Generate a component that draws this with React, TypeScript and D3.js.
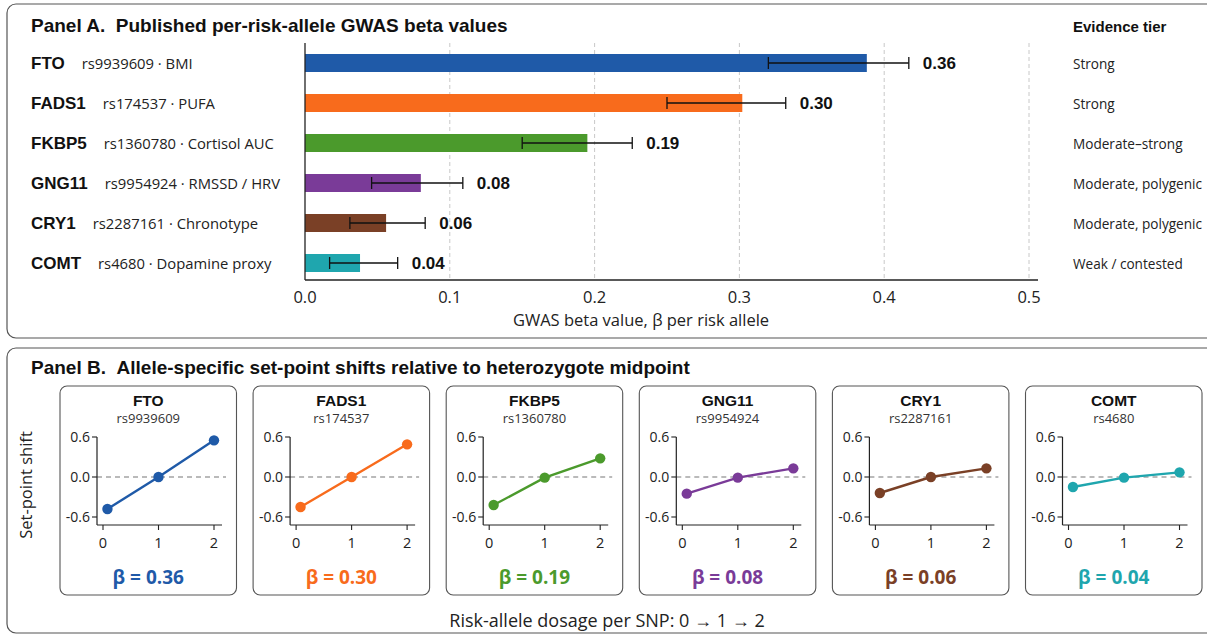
import * as d3 from 'd3';
import React from 'react';

// Panel A data
const genes = ['FTO', 'FADS1', 'FKBP5', 'GNG11', 'CRY1', 'COMT'];
const snps = ['rs9939609', 'rs174537', 'rs1360780', 'rs9954924', 'rs2287161', 'rs4680'];
const traits = ['BMI', 'PUFA', 'Cortisol AUC', 'RMSSD / HRV', 'Chronotype', 'Dopamine proxy'];
const betaBar = [0.388, 0.302, 0.195, 0.08, 0.056, 0.038];
const errLo = [0.32, 0.25, 0.15, 0.046, 0.031, 0.017];
const errHi = [0.417, 0.332, 0.226, 0.109, 0.083, 0.064];
const betaLabels = ['0.36', '0.30', '0.19', '0.08', '0.06', '0.04'];
const tiers = ['Strong', 'Strong', 'Moderate\u2013strong', 'Moderate, polygenic', 'Moderate, polygenic', 'Weak / contested'];
const xTicksA = [0, 0.1, 0.2, 0.3, 0.4, 0.5];

// Panel B data
const dosage = [0.08, 1, 2];
const dosageTicks = [0, 1, 2];
const shiftTicks = [0.6, 0, -0.6];
const shifts = [
  [-0.48, 0, 0.55],
  [-0.45, 0, 0.49],
  [-0.42, -0.01, 0.28],
  [-0.25, -0.01, 0.13],
  [-0.24, 0, 0.13],
  [-0.15, -0.01, 0.07],
];

const colors = ['#1f5aa8', '#f86b1c', '#4b9a2c', '#7a3b98', '#7a4026', '#1fa6ae'];

const sans = '"Open Sans", "Noto Sans", sans-serif';
const bold = '"Liberation Sans", Arial, sans-serif';

export default function App() {
  const W = 1207, H = 635;

  const x = d3.scaleLinear().domain([0, 0.5]).range([305, 1029]);
  const y = d3.scalePoint().domain(genes).range([63, 263]);
  const barH = 18;

  const box = d3.scaleBand().domain(genes).range([60, 1202]).paddingInner(0.086);
  const sy = d3.scaleLinear().domain([-0.72, 0.6]).range([525, 437]);
  const sxLocal = d3.scaleLinear().domain([0, 2]).range([43, 154]);
  const line = d3.line<[number, number]>().x(d => sxLocal(d[0])).y(d => sy(d[1]));

  return (
    <svg width={W} height={H} style={{ position: 'absolute', left: 0, top: 0, background: '#fff' }}>
      {/* panel frames */}
      <rect x={7} y={4} width={1215} height={334} rx={9} fill="#fff" stroke="#555" strokeWidth={1.2} />
      <rect x={7} y={348} width={1215} height={285} rx={9} fill="#fff" stroke="#555" strokeWidth={1.2} />

      {/* Panel A */}
      <text x={31} y={32} fontFamily={bold} fontWeight="bold" fontSize={19} fill="#111">
        Panel A.{'\u00a0\u00a0'}Published per-risk-allele GWAS beta values
      </text>
      <text x={1073} y={32} fontFamily={bold} fontWeight="bold" fontSize={15} fill="#111">Evidence tier</text>

      {xTicksA.slice(1).map(t => (
        <line key={t} x1={x(t)} x2={x(t)} y1={43} y2={280} stroke="#c8c8c8" strokeDasharray="4,3" />
      ))}

      {genes.map((g, i) => {
        const cy = y(g)!;
        return (
          <g key={g}>
            <text x={31} y={cy + 6} fontSize={14.8} fontFamily={sans} fill="#222">
              <tspan fontFamily={bold} fontWeight="bold" fontSize={17} fill="#111">{g}</tspan>
              <tspan dx={17}>{snps[i]} · {traits[i]}</tspan>
            </text>
            <rect x={x(0)} y={cy - barH / 2} width={x(betaBar[i]) - x(0)} height={barH} fill={colors[i]} />
            <line x1={x(errLo[i])} x2={x(errHi[i])} y1={cy} y2={cy} stroke="#111" strokeWidth={1.3} />
            <line x1={x(errLo[i])} x2={x(errLo[i])} y1={cy - 6} y2={cy + 6} stroke="#111" strokeWidth={1.3} />
            <line x1={x(errHi[i])} x2={x(errHi[i])} y1={cy - 6} y2={cy + 6} stroke="#111" strokeWidth={1.3} />
            <text x={x(errHi[i]) + 14} y={cy + 6} fontFamily={bold} fontWeight="bold" fontSize={17} fill="#111">
              {betaLabels[i]}
            </text>
            <text x={1073} y={cy + 6} fontFamily={sans} fontSize={13.6} fill="#222">{tiers[i]}</text>
          </g>
        );
      })}

      <line x1={305} x2={305} y1={43} y2={280} stroke="#222" strokeWidth={1.3} />
      <line x1={305} x2={1038} y1={280} y2={280} stroke="#222" strokeWidth={1.3} />
      {xTicksA.map(t => (
        <text key={t} x={x(t)} y={303} textAnchor="middle" fontFamily={sans} fontSize={16.5} fill="#222">
          {t.toFixed(1)}
        </text>
      ))}
      <text x={641} y={326} textAnchor="middle" fontFamily={sans} fontSize={16.5} fill="#222">
        GWAS beta value, β per risk allele
      </text>

      {/* Panel B */}
      <text x={31} y={374} fontFamily={bold} fontWeight="bold" fontSize={19} fill="#111">
        Panel B.{'\u00a0\u00a0'}Allele-specific set-point shifts relative to heterozygote midpoint
      </text>
      <text transform="translate(32,485) rotate(-90)" textAnchor="middle" fontFamily={sans} fontSize={16.5} fill="#222">
        Set-point shift
      </text>

      {genes.map((g, i) => {
        const bx = box(g)!;
        const bw = box.bandwidth();
        const pts = dosage.map((d, j) => [d, shifts[i][j]] as [number, number]);
        return (
          <g key={g}>
            <rect x={bx} y={386} width={bw} height={209} rx={7} fill="#fff" stroke="#555" strokeWidth={1.1} />
            <text x={bx + bw / 2} y={406} textAnchor="middle" fontFamily={bold} fontWeight="bold" fontSize={15.5} fill="#111">{g}</text>
            <text x={bx + bw / 2} y={423} textAnchor="middle" fontFamily={sans} fontSize={13} fill="#333">{snps[i]}</text>
            <g transform={`translate(${bx},0)`}>
              <line x1={37} x2={166} y1={sy(0)} y2={sy(0)} stroke="#777" strokeDasharray="5,4" strokeWidth={1.1} />
              <line x1={37} x2={37} y1={sy(0.6)} y2={sy(-0.72)} stroke="#222" strokeWidth={1.2} />
              <line x1={37} x2={162} y1={sy(-0.72)} y2={sy(-0.72)} stroke="#222" strokeWidth={1.2} />
              {shiftTicks.map(t => (
                <g key={t}>
                  <line x1={32} x2={37} y1={sy(t)} y2={sy(t)} stroke="#222" strokeWidth={1.1} />
                  <text x={30} y={sy(t) + 5} textAnchor="end" fontFamily={sans} fontSize={14} fill="#222">{t.toFixed(1)}</text>
                </g>
              ))}
              {dosageTicks.map(t => (
                <g key={t}>
                  <line x1={sxLocal(t)} x2={sxLocal(t)} y1={525} y2={530} stroke="#222" strokeWidth={1.1} />
                  <text x={sxLocal(t)} y={548} textAnchor="middle" fontFamily={sans} fontSize={14.5} fill="#222">{t}</text>
                </g>
              ))}
              <path d={line(pts)!} fill="none" stroke={colors[i]} strokeWidth={2.4} />
              {pts.map((p, j) => (
                <circle key={j} cx={sxLocal(p[0])} cy={sy(p[1])} r={5.2} fill={colors[i]} />
              ))}
            </g>
            <text x={bx + bw / 2} y={584} textAnchor="middle" fontFamily={sans} fontWeight="bold" fontSize={19} fill={colors[i]}>
              β = {betaLabels[i]}
            </text>
          </g>
        );
      })}

      <text x={607} y={627} textAnchor="middle" fontFamily={sans} fontSize={18} fill="#222">
        Risk-allele dosage per SNP: 0 → 1 → 2
      </text>
    </svg>
  );
}
